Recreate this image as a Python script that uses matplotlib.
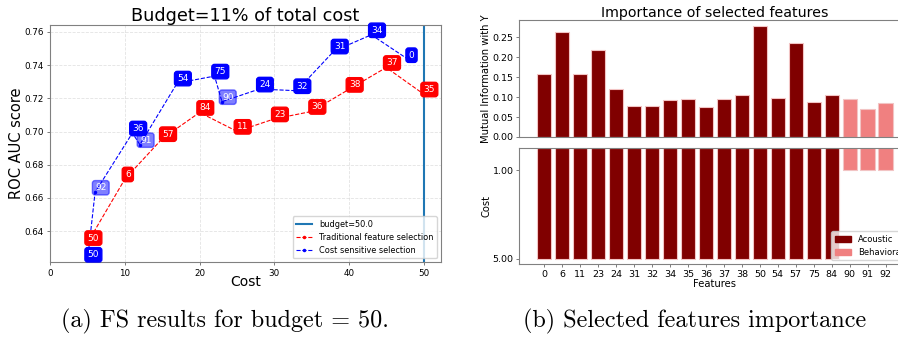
import matplotlib.pyplot as plt
from matplotlib.patches import Patch

# left panel: feature selection path (feature id, cumulative cost, ROC AUC)
trad_feats = [50, 6, 57, 84, 11, 23, 36, 38, 37, 35]
trad_cost = [5, 10, 15, 20, 25, 30, 35, 40, 45, 50]
trad_auc = [0.6331, 0.6714, 0.6957, 0.7115, 0.7001, 0.7076, 0.7121, 0.7254, 0.7386, 0.7226]

cs_feats = [50, 92, 36, 91, 54, 75, 90, 24, 32, 31, 34, 0]
cs_cost = [5, 6, 11, 12, 17, 22, 23, 28, 33, 38, 43, 48]
cs_auc = [0.6230, 0.6634, 0.6991, 0.6921, 0.7292, 0.7334, 0.7180, 0.7256, 0.7246, 0.7485, 0.7583, 0.7433]

budget = 50.0
behavioral = [90, 91, 92]

# right panel: importance / cost of selected features
features = ["0", "6", "11", "23", "24", "31", "32", "34", "35", "36", "37", "38",
            "50", "54", "57", "75", "84", "90", "91", "92"]
mutual_info = [0.157, 0.263, 0.157, 0.218, 0.120, 0.077, 0.078, 0.092, 0.095, 0.074,
               0.096, 0.106, 0.279, 0.097, 0.236, 0.087, 0.105, 0.096, 0.070, 0.084]
costs = [5, 5, 5, 5, 5, 5, 5, 5, 5, 5, 5, 5, 5, 5, 5, 5, 5, 1, 1, 1]

fig = plt.figure(figsize=(8.98, 3.37), dpi=100)

# ---- (a) ----
ax = fig.add_axes([0.056, 0.2217, 0.4348, 0.7041])
ax.axvline(budget, color="C0", lw=1.5, label="budget=%.1f" % budget)
ax.plot(trad_cost, trad_auc, "r.--", lw=0.8, ms=3, label="Traditional feature selection")
ax.plot(cs_cost, cs_auc, "b.--", lw=0.8, ms=3, label="Cost sensitive selection")
for f, c, a in zip(trad_feats, trad_cost, trad_auc):
    ax.text(c, a, str(f), color="white", fontsize=6.5, va="bottom",
            bbox=dict(boxstyle="round", fc="red", ec="red"))
for f, c, a in zip(cs_feats, cs_cost, cs_auc):
    al = 0.5 if f in behavioral else 1.0
    ax.text(c, a, str(f), color="white", fontsize=6.5, va="bottom",
            bbox=dict(boxstyle="round", fc="blue", ec="blue", alpha=al))
ax.set_xlim(0, 52.3)
ax.set_ylim(0.6212, 0.7642)
ax.set_xticks([0, 10, 20, 30, 40, 50])
ax.set_yticks([0.64, 0.66, 0.68, 0.70, 0.72, 0.74, 0.76])
ax.tick_params(labelsize=6.3, length=2.5, width=0.6, color="0.4", pad=2)
ax.grid(ls="--", lw=0.6, alpha=0.35)
for s in ax.spines.values():
    s.set_color("0.5")
ax.set_title("Budget=11% of total cost", fontsize=12.7, pad=1)
ax.set_xlabel("Cost", fontsize=10)
ax.set_ylabel("ROC AUC score", fontsize=10.5)
ax.xaxis.set_label_coords(0.5, -0.055)
ax.yaxis.set_label_coords(-0.0674, 0.5)
ax.legend(loc="lower right", fontsize=5.9)

# ---- (b) ----
colors = ["maroon" if int(f) not in behavioral else "lightcoral" for f in features]
x = range(len(features))
ax1 = fig.add_axes([0.578, 0.5935, 0.4361, 0.3472])
ax2 = fig.add_axes([0.578, 0.2157, 0.4361, 0.3443], sharex=ax1)
ax1.bar(x, mutual_info, color=colors, edgecolor="#f2c4c4", lw=0.8)
ax2.bar(x, costs, color=colors, edgecolor="#f2c4c4", lw=0.8)
ax2.invert_yaxis()
ax2.set_yticks(sorted(set(costs)))
ax2.yaxis.set_major_formatter("{x:.2f}")
ax2.set_xticks(list(x))
ax2.set_xticklabels(features)
ax1.tick_params(axis="x", bottom=False, labelbottom=False)
for a in (ax1, ax2):
    a.tick_params(labelsize=6.8, length=2.5, width=0.6, color="0.4", pad=1.5)
    for s in a.spines.values():
        s.set_color("0.5")
ax1.set_title("Importance of selected features", fontsize=10.2, pad=1)
ax1.set_ylabel("Mutual Information with Y", fontsize=7.2)
ax2.set_ylabel("Cost", fontsize=7.2)
ax2.set_xlabel("Features", fontsize=7.2)
ax1.yaxis.set_label_coords(-0.0707, 0.5)
ax2.yaxis.set_label_coords(-0.0707, 0.5)
ax2.xaxis.set_label_coords(0.5, -0.13)
ax2.legend(handles=[Patch(color="maroon", label="Acoustic"),
                    Patch(color="lightcoral", label="Behavioral")],
           loc="lower right", fontsize=6)

fig.text(225 / 898, 0.045, "(a) FS results for budget = 50.", family="cmr10",
         fontsize=17.4, ha="center", va="center")
fig.text(694.7 / 898, 0.045, "(b) Selected features importance", family="cmr10",
         fontsize=17.4, ha="center", va="center")

fig.savefig("out.png", dpi=100)
